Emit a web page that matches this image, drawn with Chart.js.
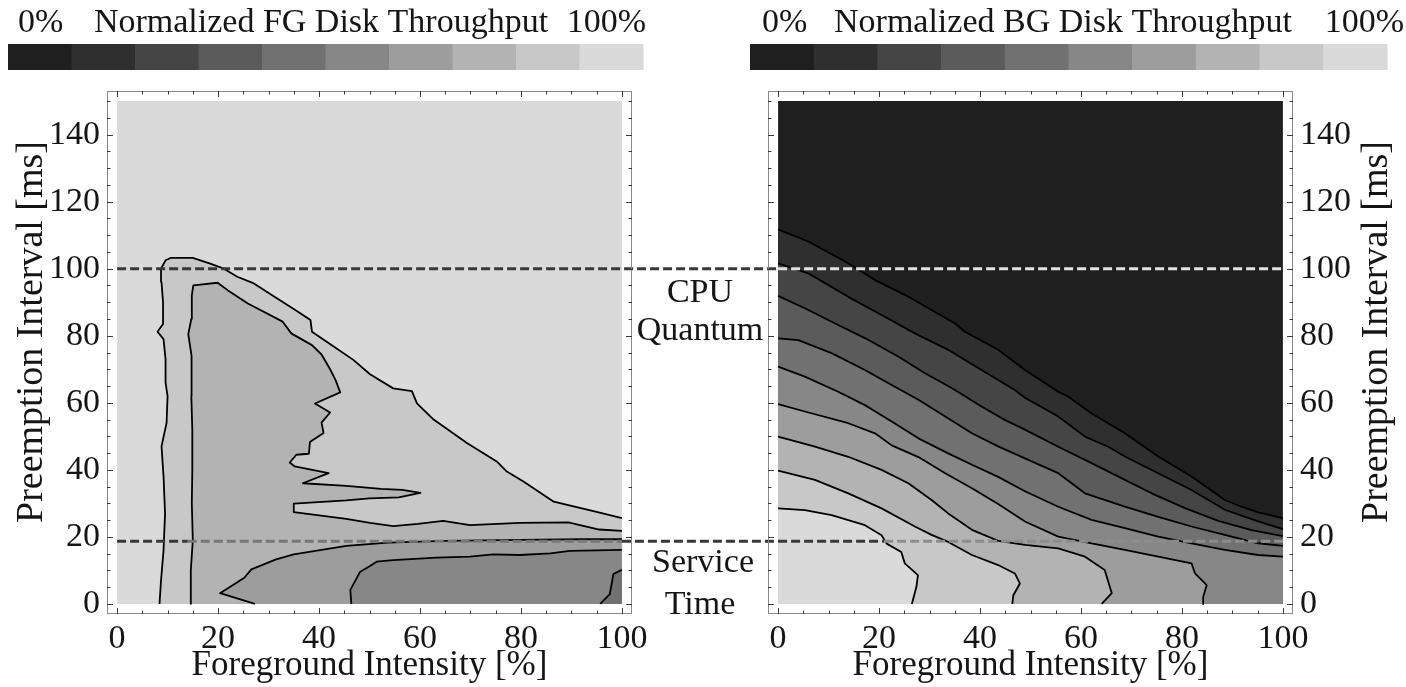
<!DOCTYPE html>
<html>
<head>
<meta charset="utf-8">
<script src="https://cdn.jsdelivr.net/npm/chart.js@4.4.1/dist/chart.umd.min.js"></script>
<style>
  body { margin: 0; background: #fff; }
  #wrap { position: relative; width: 1406px; height: 687px; }
  canvas { position: absolute; left: 0; top: 0; }
</style>
</head>
<body>
<div id="wrap">
  <canvas id="fg" width="1406" height="687"></canvas>
  <canvas id="bg" width="1406" height="687"></canvas>
</div>
<script>
// ---- data ----
var xTicks = [0, 20, 40, 60, 80, 100];
var yTicks = [0, 20, 40, 60, 80, 100, 120, 140];
// 10 shading levels, 0% .. 100% throughput
var grays = ['#1f1f1f', '#2f2f2f', '#454545', '#5b5b5b', '#717171',
             '#878787', '#9d9d9d', '#b3b3b3', '#c8c8c8', '#dadada'];
var cpuQuantum = 100;
var serviceTime = 18.7;

// FG throughput iso-lines [intensity %, interval ms]
var fg90 = [[8.4,0],[8.7,7],[9.2,16],[9.5,27],[9.2,38],[8.8,47],[9.8,54],[10,62],[9.6,66],[9.6,73],
  [9.2,79],[8,81.2],[9.1,83.5],[9.1,90],[8.8,96],[8.7,100],[9.6,102.5],[10.6,103.2],[15,103.2],
  [18.3,101.6],[21,100.1],[23.8,97.6],[27.1,95.6],[31.1,91.7],[35.3,87.7],[38.3,84.7],[38.6,81.2],
  [42.9,76.8],[46.8,72.8],[50.1,68.5],[54.7,64.3],[58.4,63.5],[59.4,59.8],[62.7,55],[64.6,53],
  [69.3,48],[75.2,42.5],[77.2,39.5],[80.5,36.5],[86.5,30.5],[89.8,29.3],[95.8,27.2],[100,25.6]];
var fg80 = [[14.5,0],[14.6,10],[15,19],[14.8,30],[14.9,40],[14.9,52],[14.7,62],[14.8,70],[14.7,74],
  [14.1,80.5],[14.7,85],[14.8,92],[15.1,95],[19.9,95.8],[21.9,93.6],[25.9,89.6],[32.8,84.2],
  [34.5,80.7],[38.6,77.2],[40.5,74.4],[42.2,70],[43.3,66.7],[44.2,63.1],[39.2,59.8],[42.2,57.1],
  [40.5,54.1],[40.9,51],[38.2,48.3],[38,44.8],[35.5,44.5],[34.2,42.2],[35.2,41],[41.9,39],[36.8,36],
  [45.4,35.2],[52.3,34.3],[56.5,34],[60.1,33.1],[55.8,31.8],[50,31.5],[45.4,30.9],[35,29.9],[35,27.4],
  [45.4,25.4],[50.1,24.2],[54.7,23.2],[59.6,23.9],[64.6,24.8],[69.9,23.5],[79.8,24.2],[89.4,24.3],
  [95.5,22.2],[100,21.8]];
var fg70 = [[27.3,0],[20.4,3.2],[25.2,7.8],[26.6,10.3],[31.5,13.3],[35,14.8],[45.4,17.3],[53.7,18.3],
  [65,18.8],[80,19.1],[92,19.3],[100,19.3]];
var fg60 = [[46.4,0],[46.2,4.2],[48.1,9.5],[50.1,11.3],[51.4,12.6],[54.7,13.1],[63.3,13.8],[69.9,14.1],
  [74.5,14.8],[79.8,14.6],[85.8,15.1],[89.7,15.8],[100,16.1]];
var fg50 = [[95.7,0],[97.6,2.9],[98.3,8.9],[100,10.2]];

// BG throughput iso-lines
var bg10 = [[0,111.7],[6,108.1],[13.9,101.6],[19.2,96.6],[25.1,92.2],[30.4,87.7],[35,83.7],[37,81.2],
  [43.6,75.8],[48.9,69.8],[55.5,63.3],[57.5,61.8],[62.1,56.8],[68.7,50.9],[75.3,44],[81.9,38],
  [88.5,31],[91.8,29],[95.1,27.3],[100,25.6]];
var bg20 = [[0,101.6],[6,98.6],[13.9,91.6],[20.5,86.2],[27.1,80.7],[33.7,75.8],[40.3,69.8],[46.9,63.8],
  [48.9,61.5],[55.5,55.9],[60.8,49.9],[65.4,46.9],[68.7,44],[75.3,39],[81.9,34],[88.5,28.1],
  [95.1,24.6],[100,22.3]];
var bg30 = [[0,91.9],[5.3,88.2],[11.9,83.2],[17.2,79.3],[23.8,73.8],[29.1,68.8],[34.4,64.4],[40.3,58.9],
  [44.9,54.9],[48.9,52],[55.5,46.9],[62.1,42],[68.7,37],[74,33],[80.6,28.6],[87.2,24.8],[93.8,22],
  [100,20.2]];
var bg40 = [[0,79.2],[4,78.7],[10.6,74.8],[17.2,69.8],[22.5,65.3],[27.8,60.9],[33.1,55.9],[38.4,50.9],
  [43.6,47],[48.9,43.4],[55.5,39],[60.8,33],[68.7,29],[75.3,26],[81.9,23.1],[88.5,20.6],[95.1,18.1],
  [100,17.3]];
var bg50 = [[0,70.8],[5.3,67.8],[11.9,63.3],[17.2,59.3],[22.5,54.4],[27.8,49.4],[33.7,44.9],[38.4,41.5],
  [43.6,37.9],[48.9,33.6],[55.5,29],[62.1,25.1],[68.7,22.6],[75.3,20.1],[81.9,18.1],[88.5,16.1],
  [95.1,14.6],[100,14.1]];
var bg60 = [[0,59.6],[5.3,57.4],[13.9,53.9],[19.2,50.9],[22.5,47.3],[27.8,43.8],[33.1,39],[38.4,34.5],
  [43.6,29.8],[48.9,24.6],[55.5,20.1],[62.1,18.1],[68.7,16.1],[75.3,14.1],[81.9,12.1],[82.6,9.1],
  [84.9,5.6],[84.2,2.1],[84.2,0]];
var bg70 = [[0,49.9],[7.3,46.9],[13.9,43.9],[20.5,40],[25.8,36],[30.4,31],[33.7,27],[38.4,22.1],
  [43.6,18.8],[48.9,17.6],[55.5,16.6],[60.8,14.1],[64.7,10.1],[66.1,3.2],[64.1,0]];
var bg80 = [[0,39.8],[7.3,37],[13.9,33],[20.5,28.5],[27.1,23.1],[30.4,20.6],[33.7,18.5],[38.4,14.6],
  [43.6,11.6],[46.9,9.1],[47.9,6.1],[46.6,2.6],[46.4,0]];
var bg90 = [[0,28.5],[5.3,28],[10.6,26.5],[17.2,23.5],[20.5,20.5],[21.5,18],[24.4,15.5],[25.1,12.1],
  [27.7,8.6],[27.4,5.1],[26.5,0]];

// ---- helpers ----
Chart.defaults.font.family = "'Liberation Serif', 'DejaVu Serif', serif";
Chart.defaults.color = '#151515';

function toPts(line) {
  return line.map(function (p) { return {x: p[0], y: p[1]}; });
}

function background(color) {
  return {
    data: [{x: 0, y: 0}, {x: 100, y: 0}, {x: 100, y: 150}, {x: 0, y: 150}],
    fill: 'shape', backgroundColor: color, borderWidth: 0, order: 100
  };
}

// filled area on the high side of an iso-line, closed along the plot border
function band(line, color, order) {
  var pts = toPts(line);
  if (line[line.length - 1][0] === 100) pts.push({x: 100, y: 0});
  if (line[0][0] === 0) pts.push({x: 0, y: 0});
  return {data: pts, order: order, fill: 'shape', backgroundColor: color, borderWidth: 0};
}

function contour(line) {
  return {data: toPts(line), order: 0, fill: false, borderColor: '#000', borderWidth: 1.8};
}

function dashed(y, xs, colors) {
  return {
    data: xs.map(function (x) { return {x: x, y: y}; }),
    order: -1, clip: false, fill: false,
    borderWidth: 3, borderDash: [9, 4], borderCapStyle: 'butt',
    borderColor: colors[0],
    segment: {borderColor: function (ctx) { return colors[ctx.p0DataIndex]; }}
  };
}

var frame = {
  id: 'frame',
  afterDraw: function (chart) {
    var c = chart.ctx, a = chart.chartArea, sx = chart.scales.x, sy = chart.scales.y;
    c.save();
    c.strokeStyle = '#8a8a8a';
    c.lineWidth = 1;
    c.strokeRect(a.left + 0.5, a.top + 0.5, a.right - a.left - 1, a.bottom - a.top - 1);
    c.strokeStyle = '#3a3a3a';
    c.beginPath();
    sx.ticks.forEach(function (t) {
      var p = Math.round(sx.getPixelForValue(t.value)) + 0.5, len = t.value % 20 ? 3.5 : 6;
      c.moveTo(p, a.bottom); c.lineTo(p, a.bottom - len);
      c.moveTo(p, a.top); c.lineTo(p, a.top + len);
    });
    sy.ticks.forEach(function (t) {
      var p = Math.round(sy.getPixelForValue(t.value)) + 0.5, len = t.value % 20 ? 3.5 : 6;
      c.moveTo(a.left, p); c.lineTo(a.left + len, p);
      c.moveTo(a.right, p); c.lineTo(a.right - len, p);
    });
    c.stroke();
    c.restore();
  }
};

var decor = {
  id: 'decor',
  afterDraw: function (chart, args, o) {
    var c = chart.ctx;
    c.save();
    var w = (o.bar[1] - o.bar[0]) / grays.length;
    grays.forEach(function (g, i) {
      c.fillStyle = g;
      c.fillRect(o.bar[0] + i * w, 44, w + 0.6, 26);
    });
    c.fillStyle = '#151515';
    c.font = "34px 'Liberation Serif'";
    c.textBaseline = 'alphabetic';
    c.textAlign = 'left'; c.fillText('0%', o.lo, 32);
    c.textAlign = 'center'; c.fillText(o.title, o.mid, 32);
    c.textAlign = 'right'; c.fillText('100%', o.hi, 32);
    c.textAlign = 'center';
    c.textBaseline = 'middle';
    (o.notes || []).forEach(function (n) {
      c.fillText(n[0], n[1], n[2]);
    });
    c.translate(o.axisX, 332);
    c.rotate(-Math.PI / 2);
    c.font = "38px 'Liberation Serif'";
    c.fillText('Preemption Interval [ms]', 0, 0);
    c.restore();
  }
};

function scales(yPos) {
  return {
    x: {
      type: 'linear', min: -2, max: 102,
      grid: {display: false, drawTicks: false}, border: {display: false},
      ticks: {
        stepSize: 5, autoSkip: false, includeBounds: false, maxRotation: 0, padding: 5,
        font: {size: 34},
        callback: function (v) { return xTicks.indexOf(v) >= 0 ? String(v) : ''; }
      },
      title: {display: true, text: 'Foreground Intensity [%]', font: {size: 35}, padding: 0},
      afterFit: function (s) { s.height = 73; }
    },
    y: {
      type: 'linear', position: yPos, min: -3, max: 153,
      grid: {display: false, drawTicks: false}, border: {display: false},
      ticks: {
        stepSize: 5, autoSkip: false, includeBounds: false, padding: 7,
        font: {size: 34},
        callback: function (v) { return yTicks.indexOf(v) >= 0 ? String(v) : ''; }
      },
      afterFit: function (s) { s.width = 100; }
    }
  };
}

function makeChart(id, datasets, padding, decorOpts) {
  return new Chart(document.getElementById(id), {
    type: 'line',
    data: {datasets: datasets},
    options: {
      responsive: false, animation: false, devicePixelRatio: 1, events: [],
      layout: {padding: padding},
      elements: {point: {radius: 0, hitRadius: 0}, line: {tension: 0, borderJoinStyle: 'round'}},
      scales: scales(padding.left > 100 ? 'right' : 'left'),
      plugins: {legend: {display: false}, tooltip: {enabled: false}, decor: decorOpts}
    },
    plugins: [frame, decor]
  });
}

var fgLines = [fg90, fg80, fg70, fg60, fg50];
var fgSets = [background(grays[9])];
fgLines.forEach(function (l, i) { fgSets.push(band(l, grays[8 - i], 10 - i)); });
fgLines.forEach(function (l) { fgSets.push(contour(l)); });
fgSets.push(dashed(cpuQuantum, [0, 131], ['#383838']));
fgSets.push(dashed(serviceTime, [0, 14, 100, 131], ['#383838', '#777777', '#383838']));

var bgLines = [bg10, bg20, bg30, bg40, bg50, bg60, bg70, bg80, bg90];
var bgSets = [background(grays[0])];
bgLines.forEach(function (l, i) { bgSets.push(band(l, grays[i + 1], 20 - i)); });
bgLines.forEach(function (l) { bgSets.push(contour(l)); });
bgSets.push(dashed(cpuQuantum, [0, 100], ['#e2e2e2']));
bgSets.push(dashed(serviceTime, [0, 21, 100], ['#383838', '#8c8c8c']));

makeChart('fg', fgSets, {left: 7, right: 774, top: 91, bottom: 0}, {
  bar: [8, 643], lo: 18, mid: 321, hi: 646,
  title: 'Normalized FG Disk Throughput', axisX: 32,
  notes: [['CPU', 700, 293], ['Quantum', 700, 331], ['Service', 703, 563], ['Time', 700, 605]]
});

makeChart('bg', bgSets, {left: 768, right: 13, top: 91, bottom: 0}, {
  bar: [750, 1387], lo: 762, mid: 1063, hi: 1404,
  title: 'Normalized BG Disk Throughput', axisX: 1377
});
</script>
</body>
</html>
